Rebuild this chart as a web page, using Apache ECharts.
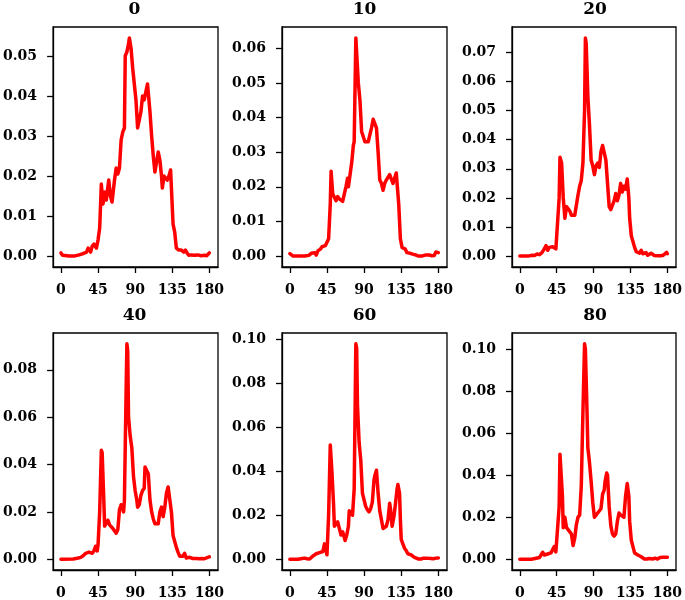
<!DOCTYPE html>
<html>
<head>
<meta charset="utf-8">
<script src="https://cdn.jsdelivr.net/npm/echarts@6/dist/echarts.min.js"></script>
<style>
html,body{margin:0;padding:0;background:#fff;}
#chart{width:685px;height:600px;}
</style>
</head>
<body>
<div id="chart"></div>
<script>
// Panel titles
const panelTitles = ['0', '10', '20', '40', '60', '80'];
// x tick labels (degrees)
const xTicks = [0, 45, 90, 135, 180];
// y tick labels per panel
const yTicksA = [0, 0.01, 0.02, 0.03, 0.04, 0.05];
const yTicksB = [0, 0.01, 0.02, 0.03, 0.04, 0.05, 0.06];
const yTicksC = [0, 0.01, 0.02, 0.03, 0.04, 0.05, 0.06, 0.07];
const yTicksD = [0, 0.02, 0.04, 0.06, 0.08];
const yTicksE = [0, 0.02, 0.04, 0.06, 0.08, 0.10];
const yTicksF = [0, 0.02, 0.04, 0.06, 0.08, 0.10];

// Series values: [angle, density]
const series0 = [[0,0.0008],[2,0.0002],[4,0],[10,0],[16,0],[22,0.0003],[25,0.0005],[28,0.0007],[31,0.001],[33,0.002],[36,0.001],[38,0.0025],[40,0.003],[43,0.002],[45,0.004],[47,0.007],[49,0.018],[51,0.013],[53,0.016],[55,0.014],[58,0.019],[60,0.015],[62,0.0135],[65,0.019],[67,0.022],[69,0.0205],[71,0.022],[73,0.029],[75,0.031],[77,0.032],[78,0.050],[80,0.051],[82,0.053],[83,0.0545],[85,0.052],[87,0.047],[89,0.043],[91,0.039],[93,0.032],[95,0.032],[97,0.036],[99,0.040],[101,0.039],[103,0.041],[105,0.043],[106,0.043],[108,0.036],[110,0.030],[112,0.025],[114,0.021],[116,0.021],[118,0.026],[120,0.024],[122,0.020],[123,0.017],[125,0.020],[127,0.020],[129,0.019],[131,0.020],[133,0.0215],[135,0.0215],[136,0.008],[138,0.006],[140,0.002],[143,0.0015],[146,0.0015],[149,0.001],[151,0.0015],[153,0.0008],[155,0.0002],[158,0.0003],[162,0.0002],[166,0.0003],[170,0.0001],[174,0.0002],[177,0.0001],[180,0.0008]];
const series10 = [[0,0.0007],[2,0.0003],[4,0],[10,0],[18,0],[20,0.0003],[23,0.0002],[26,0.0008],[28,0.0005],[30,0.001],[32,0.0003],[34,0.0015],[37,0.002],[39,0.0027],[41,0.0025],[43,0.003],[45,0.0035],[47,0.005],[49,0.015],[50,0.0245],[52,0.018],[54,0.017],[56,0.016],[58,0.0172],[60,0.0165],[62,0.017],[64,0.0158],[66,0.016],[68,0.020],[70,0.0225],[71,0.020],[73,0.0205],[75,0.027],[77,0.032],[78,0.033],[80,0.063],[81,0.0625],[83,0.050],[85,0.045],[87,0.036],[89,0.0355],[91,0.033],[93,0.0325],[95,0.033],[97,0.033],[99,0.037],[101,0.0395],[103,0.039],[105,0.037],[107,0.030],[109,0.022],[111,0.021],[113,0.019],[115,0.021],[117,0.022],[119,0.0225],[121,0.0235],[123,0.023],[125,0.021],[127,0.0205],[129,0.024],[131,0.0235],[132,0.015],[134,0.005],[136,0.0025],[138,0.0025],[140,0.002],[142,0.001],[144,0.0015],[146,0.0008],[148,0.001],[150,0.0005],[153,0.0003],[156,0],[160,0],[164,0.0003],[166,0.0006],[169,0.0003],[172,0.0001],[175,0.0002],[177,0.0012],[180,0.001]];
const series20 = [[0,0],[10,0],[12,0.0001],[15,0.0003],[18,0.0002],[21,0.0007],[24,0.0005],[27,0.0012],[30,0.0025],[32,0.0036],[34,0.002],[36,0.003],[38,0.0035],[40,0.0032],[42,0.0035],[44,0.0025],[46,0.003],[48,0.020],[49,0.034],[51,0.032],[53,0.020],[55,0.013],[57,0.017],[59,0.0165],[61,0.0155],[63,0.014],[65,0.014],[67,0.014],[69,0.014],[71,0.021],[73,0.024],[75,0.026],[77,0.032],[79,0.050],[80,0.075],[81,0.073],[83,0.055],[85,0.045],[87,0.033],[89,0.031],[91,0.028],[93,0.031],[95,0.032],[97,0.0305],[99,0.036],[101,0.038],[103,0.038],[105,0.033],[107,0.025],[109,0.017],[111,0.016],[113,0.0175],[115,0.019],[117,0.0215],[119,0.019],[121,0.021],[123,0.025],[125,0.022],[127,0.024],[129,0.023],[131,0.0265],[133,0.020],[134,0.013],[136,0.007],[138,0.005],[140,0.003],[142,0.0015],[144,0.0015],[146,0.001],[148,0.002],[150,0.0008],[152,0.0003],[154,0.0012],[156,0.0003],[158,0.0001],[160,0.001],[162,0.0008],[164,0.0002],[166,0.0006],[168,0.0001],[170,0.0007],[172,0.0001],[175,0.0003],[177,0.0005],[179,0.0013],[180,0.0008]];
const series40 = [[0,0],[15,0.0001],[18,0.0003],[21,0.0005],[24,0.0008],[27,0.0015],[30,0.0025],[32,0.003],[34,0.003],[36,0.0028],[38,0.0025],[40,0.0035],[42,0.0055],[44,0.0035],[45,0.006],[47,0.020],[49,0.046],[50,0.045],[52,0.025],[53,0.014],[55,0.0145],[57,0.0165],[59,0.0145],[61,0.014],[63,0.013],[65,0.0125],[67,0.011],[69,0.0125],[71,0.021],[73,0.023],[74,0.022],[76,0.020],[77,0.025],[79,0.070],[80,0.091],[81,0.088],[82,0.060],[84,0.052],[86,0.047],[88,0.035],[90,0.029],[92,0.025],[93,0.022],[95,0.023],[97,0.027],[99,0.029],[101,0.030],[102,0.039],[104,0.039],[106,0.036],[108,0.025],[110,0.020],[112,0.017],[114,0.015],[116,0.015],[118,0.015],[120,0.020],[122,0.022],[124,0.018],[126,0.022],[128,0.028],[130,0.0305],[132,0.0305],[134,0.020],[136,0.010],[138,0.0075],[140,0.005],[142,0.003],[144,0.0013],[146,0.0015],[148,0.0013],[150,0.0025],[152,0.0005],[154,0.0003],[156,0.0008],[158,0.0002],[160,0.0003],[162,0.0008],[164,0.0003],[166,0.0006],[168,0.0002],[171,0.0003],[174,0.0002],[176,0.0001],[178,0.0008],[180,0.001]];
const series60 = [[0,0],[10,0],[12,0.0001],[15,0.0003],[18,0.0005],[21,0.0002],[24,0.0001],[26,0.001],[28,0.0015],[30,0.002],[32,0.0025],[34,0.003],[36,0.003],[38,0.003],[40,0.0035],[42,0.007],[44,0.0065],[45,0.002],[47,0.020],[49,0.052],[50,0.052],[51,0.040],[53,0.025],[54,0.015],[56,0.0155],[58,0.017],[60,0.0165],[62,0.011],[64,0.0125],[66,0.012],[67,0.0085],[69,0.011],[71,0.015],[72,0.022],[74,0.0225],[76,0.020],[78,0.032],[80,0.098],[81,0.096],[82,0.070],[84,0.053],[86,0.045],[88,0.030],[90,0.027],[92,0.024],[94,0.0225],[96,0.0215],[98,0.023],[100,0.026],[102,0.036],[103,0.038],[105,0.0405],[107,0.030],[109,0.022],[111,0.018],[113,0.014],[115,0.0135],[117,0.015],[119,0.018],[121,0.0255],[122,0.023],[124,0.015],[126,0.019],[128,0.025],[130,0.032],[131,0.034],[133,0.030],[134,0.018],[135,0.009],[137,0.007],[139,0.005],[141,0.004],[143,0.0025],[145,0.002],[147,0.002],[149,0.0015],[151,0.0008],[153,0.0003],[156,0.0001],[159,0.0001],[162,0.0005],[164,0.0012],[166,0.0005],[168,0.0002],[171,0.0003],[174,0.0002],[177,0.0005],[178,0.001],[180,0.0006]];
const series80 = [[0,0],[14,0],[16,0.0001],[20,0.0005],[24,0.0008],[26,0.0012],[28,0.0033],[30,0.002],[32,0.002],[34,0.0025],[36,0.002],[38,0.003],[40,0.0025],[42,0.006],[44,0.0035],[46,0.003],[48,0.025],[49,0.050],[50,0.050],[52,0.030],[53,0.015],[55,0.020],[57,0.015],[59,0.015],[61,0.013],[63,0.012],[65,0.0065],[67,0.010],[69,0.0165],[71,0.020],[73,0.021],[75,0.035],[77,0.070],[79,0.1025],[80,0.100],[82,0.070],[83,0.053],[85,0.046],[87,0.037],[89,0.027],[91,0.020],[93,0.021],[95,0.022],[97,0.0225],[99,0.024],[101,0.031],[103,0.033],[104,0.037],[106,0.041],[107,0.040],[109,0.025],[111,0.016],[113,0.012],[115,0.011],[117,0.012],[119,0.018],[121,0.022],[123,0.021],[125,0.0205],[127,0.020],[129,0.030],[131,0.036],[133,0.030],[134,0.018],[136,0.009],[138,0.006],[140,0.003],[142,0.003],[144,0.002],[146,0.0025],[148,0.0012],[150,0.0003],[152,0.0001],[155,0.0001],[158,0.0003],[160,0.0008],[162,0.0001],[165,0.0005],[168,0.0001],[171,0.0008],[173,0.0002],[175,0.0009],[177,0.0003],[180,0.0009]];

const allSeries = [series0, series10, series20, series40, series60, series80];
const allYTicks = [yTicksA, yTicksB, yTicksC, yTicksD, yTicksE, yTicksF];

// Layout
const colLeft = [51, 282, 512];
const colWidth = [167, 165, 166];
const rowTop = [27, 333];
const plotH = 240;
const fontFamily = '"DejaVu Serif", serif';

const grids = [], xAxes = [], yAxes = [], seriesOpts = [], graphics = [];
allSeries.forEach((data, i) => {
  const r = Math.floor(i / 3), c = i % 3;
  grids.push({
    left: colLeft[c], top: rowTop[r], width: colWidth[c], height: plotH,
    show: true, borderColor: '#000', borderWidth: 1.3, backgroundColor: 'transparent',
    containLabel: false
  });
  const ys = data.map(d => d[1]);
  const ymax = Math.max(...ys), ymin = Math.min(...ys);
  const pad = (ymax - ymin) * 0.05;
  const labelStyle = {color: '#000', fontFamily: fontFamily, fontWeight: 'bold', fontSize: 14, margin: 16};
  const lineStyle = {color: '#000', width: 1.3};
  xAxes.push({
    type: 'value', gridIndex: i, min: -9.5, max: 190.5, position: 'bottom',
    axisLine: {show: true, onZero: false, lineStyle: lineStyle},
    axisTick: {show: true, inside: false, length: 6, lineStyle: lineStyle, customValues: xTicks},
    axisLabel: Object.assign({customValues: xTicks, formatter: v => String(v)}, labelStyle),
    splitLine: {show: false}
  });
  yAxes.push({
    type: 'value', gridIndex: i, min: ymin - pad, max: ymax + pad, position: 'left',
    axisLine: {show: true, onZero: false, lineStyle: lineStyle},
    axisTick: {show: true, inside: false, length: 6, lineStyle: lineStyle, customValues: allYTicks[i]},
    axisLabel: Object.assign({customValues: allYTicks[i], formatter: v => v.toFixed(2)}, labelStyle),
    splitLine: {show: false}
  });
  seriesOpts.push({
    type: 'line', xAxisIndex: i, yAxisIndex: i, data: data,
    showSymbol: false, symbol: 'none', smooth: false, animation: false,
    lineStyle: {color: '#ff0000', width: 3.5, join: 'round', cap: 'round'}
  });
  graphics.push({
    type: 'text', x: colLeft[c] + colWidth[c] / 2, y: r === 0 ? 10 : 316,
    style: {text: panelTitles[i], font: 'bold 17px ' + fontFamily, fill: '#000', align: 'center', verticalAlign: 'middle'}
  });
});

const chart = echarts.init(document.getElementById('chart'), null, {renderer: 'canvas'});
chart.setOption({
  animation: false,
  backgroundColor: '#fff',
  grid: grids,
  xAxis: xAxes,
  yAxis: yAxes,
  series: seriesOpts,
  graphic: graphics
});
</script>
</body>
</html>
